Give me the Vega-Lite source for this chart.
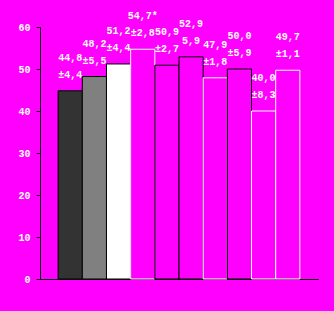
{
  "$schema": "https://vega.github.io/schema/vega-lite/v6.json",
  "width": 278,
  "height": 252,
  "autosize": {"type": "none"},
  "padding": {"left": 40, "top": 27, "right": 16, "bottom": 32},
  "background": "#ff00ff",
  "config": {"view": {"stroke": null}},
  "data": {
    "values": [
      {"group": "G1", "mean": 44.8, "label": "44,8", "sd": "±4,4"},
      {"group": "G2", "mean": 48.2, "label": "48,2", "sd": "±5,5"},
      {"group": "G3", "mean": 51.2, "label": "51,2", "sd": "±4,4"},
      {"group": "G4", "mean": 54.7, "label": "54,7*", "sd": "±2,8"},
      {"group": "G5", "mean": 50.9, "label": "50,9", "sd": "±2,7"},
      {"group": "G6", "mean": 52.9, "label": "52,9", "sd": "5,9"},
      {"group": "G7", "mean": 47.9, "label": "47,9", "sd": "±1,8"},
      {"group": "G8", "mean": 50.0, "label": "50,0", "sd": "±5,9"},
      {"group": "G9", "mean": 40.0, "label": "40,0", "sd": "±8,3"},
      {"group": "G10", "mean": 49.7, "label": "49,7", "sd": "±1,1"}
    ]
  },
  "encoding": {
    "x": {
      "field": "group",
      "type": "nominal",
      "sort": null,
      "scale": {"paddingInner": 0, "paddingOuter": 0.75},
      "axis": {
        "labels": false,
        "ticks": false,
        "title": null,
        "domainColor": "black",
        "domainWidth": 1
      }
    },
    "y": {
      "field": "mean",
      "type": "quantitative",
      "scale": {"domain": [0, 60], "nice": false},
      "axis": {
        "values": [0, 10, 20, 30, 40, 50, 60],
        "grid": false,
        "title": null,
        "tickSize": 4,
        "tickColor": "black",
        "domainColor": "black",
        "labelPadding": 6,
        "labelColor": "white",
        "labelFont": "Liberation Mono",
        "labelFontSize": 10,
        "labelFontWeight": "bold"
      }
    }
  },
  "layer": [
    {
      "mark": {"type": "bar", "strokeWidth": 1},
      "encoding": {
        "fill": {
          "field": "group",
          "type": "nominal",
          "legend": null,
          "scale": {
            "domain": ["G1", "G2", "G3", "G4", "G5", "G6", "G7", "G8", "G9", "G10"],
            "range": ["#333333", "#808080", "#ffffff", "#ff00ff", "#ff00ff", "#ff00ff", "#ff00ff", "#ff00ff", "#ff00ff", "#ff00ff"]
          }
        },
        "stroke": {
          "field": "group",
          "type": "nominal",
          "legend": null,
          "scale": {
            "domain": ["G1", "G2", "G3", "G4", "G5", "G6", "G7", "G8", "G9", "G10"],
            "range": ["#000000", "#000000", "#000000", "#ffffff", "#000000", "#000000", "#ffffff", "#000000", "#ffffff", "#ffffff"]
          }
        }
      }
    },
    {
      "mark": {
        "type": "text",
        "dy": -33,
        "baseline": "middle",
        "align": "center",
        "font": "Liberation Mono",
        "fontSize": 10,
        "fontWeight": "bold",
        "color": "white"
      },
      "encoding": {"text": {"field": "label"}}
    },
    {
      "mark": {
        "type": "text",
        "dy": -16,
        "baseline": "middle",
        "align": "center",
        "font": "Liberation Mono",
        "fontSize": 10,
        "fontWeight": "bold",
        "color": "white"
      },
      "encoding": {"text": {"field": "sd"}}
    }
  ]
}
